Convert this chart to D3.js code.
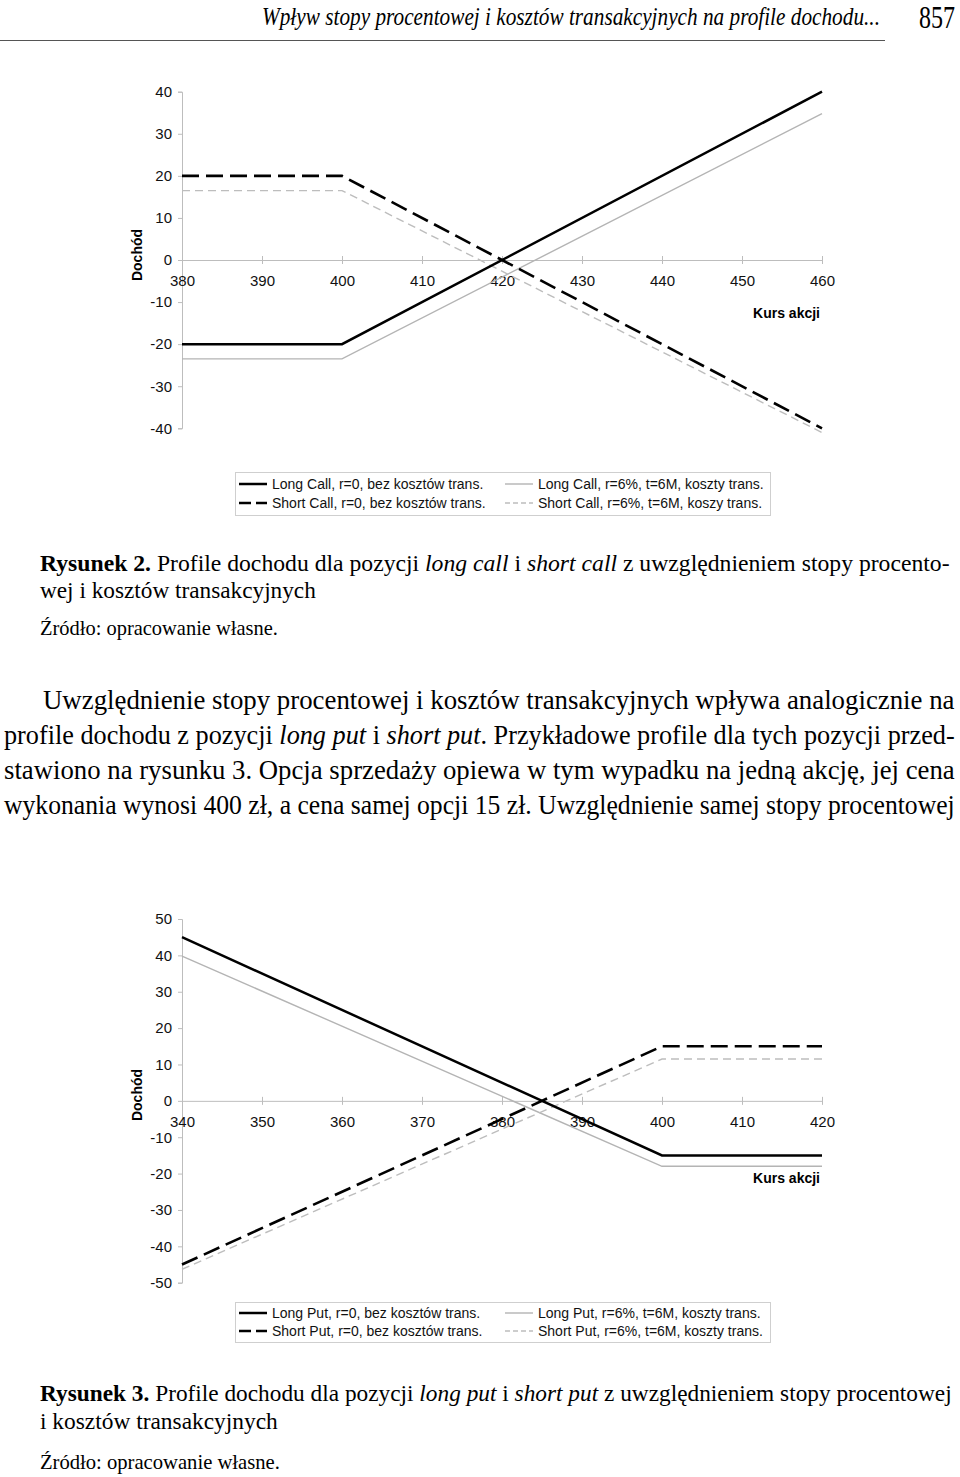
<!DOCTYPE html>
<html><head><meta charset="utf-8">
<script src="https://cdn.jsdelivr.net/npm/d3@7"></script>
<style>
body{margin:0;background:#fff;}
svg{display:block;}
</style>
</head><body>
<svg id="page" width="960" height="1477"></svg>
<script>
// ---------- DATA ----------
const callX = [380, 400, 460];
const longCall0 = [-20, -20, 40];
const shortCall0 = [20, 20, -40];
const longCall6 = [-23.5, -23.5, 34.8];
const shortCall6 = [16.5, 16.5, -41];
const callXTicks = [380, 390, 400, 410, 420, 430, 440, 450, 460];
const callYTicks = [-40, -30, -20, -10, 0, 10, 20, 30, 40];
const callLegend = ["Long Call, r=0, bez kosztów trans.", "Short Call, r=0, bez kosztów trans.",
                    "Long Call, r=6%, t=6M, koszty trans.", "Short Call, r=6%, t=6M, koszy trans."];

const putX = [340, 400, 420];
const longPut0 = [45, -15, -15];
const shortPut0 = [-45, 15, 15];
const longPut6 = [39.8, -18, -18];
const shortPut6 = [-46.3, 11.5, 11.5];
const putXTicks = [340, 350, 360, 370, 380, 390, 400, 410, 420];
const putYTicks = [-50, -40, -30, -20, -10, 0, 10, 20, 30, 40, 50];
const putLegend = ["Long Put, r=0, bez kosztów trans.", "Short Put, r=0, bez kosztów trans.",
                   "Long Put, r=6%, t=6M, koszty trans.", "Short Put, r=6%, t=6M, koszty trans."];

const yTitle = "Dochód";
const xTitle = "Kurs akcji";

// ---------- STYLES ----------
const styles = [
  {stroke:"#000", width:2.5, dash:null},          // long r=0
  {stroke:"#000", width:2.6, dash:"17,7"},        // short r=0
  {stroke:"#b4b4b4", width:1.4, dash:null},       // long r=6%
  {stroke:"#bdbdbd", width:1.4, dash:"8,5"}       // short r=6%
];

const svg = d3.select("#page");
const AX = "#bdbdbd";
const FONT = "Arial, 'Liberation Sans', sans-serif";
const fmt = d => String(d);

function drawChart(cfg){
  const x = d3.scaleLinear().domain(cfg.xDomain).range([182, 822]);
  const y = d3.scaleLinear().domain(cfg.yDomain).range(cfg.yRange);
  const g = svg.append("g");

  // y axis
  const ya = g.append("g").attr("transform","translate(182,0)")
    .call(d3.axisLeft(y).tickValues(cfg.yTicks).tickFormat(fmt).tickSize(4).tickPadding(6));
  ya.select(".domain").attr("stroke",AX);
  ya.selectAll(".tick line").attr("stroke",AX);
  ya.selectAll(".tick text").attr("font-family",FONT).attr("font-size",15).attr("fill","#111");

  // x axis at y = 0
  const xa = g.append("g").attr("transform",`translate(0,${y(0)})`)
    .call(d3.axisBottom(x).tickValues(cfg.xTicks).tickFormat(fmt).tickSize(4).tickSizeOuter(0));
  xa.select(".domain").attr("stroke",AX);
  xa.selectAll(".tick line").attr("stroke",AX).attr("y1",-4).attr("y2",4);
  xa.selectAll(".tick text").attr("font-family",FONT).attr("font-size",15).attr("fill","#111")
    .attr("y",26).attr("dy",0);

  // titles
  g.append("text").attr("transform",`translate(142,${cfg.yTitleY}) rotate(-90)`)
    .attr("text-anchor","middle").attr("font-family",FONT).attr("font-weight","bold")
    .attr("font-size",14).text(yTitle);
  g.append("text").attr("x",820).attr("y",cfg.xTitleY).attr("text-anchor","end")
    .attr("font-family",FONT).attr("font-weight","bold").attr("font-size",14).text(xTitle);

  // lines (gray first, black on top)
  const line = d3.line().x(d=>x(d[0])).y(d=>y(d[1]));
  [2,3,0,1].forEach(i=>{
    const pts = cfg.xs.map((v,k)=>[v, cfg.series[i][k]]);
    g.append("path").attr("d",line(pts)).attr("fill","none")
      .attr("stroke",styles[i].stroke).attr("stroke-width",styles[i].width)
      .attr("stroke-dasharray",styles[i].dash);
  });

  // legend
  const L = cfg.legend;
  g.append("rect").attr("x",235.5).attr("y",L.top+0.5).attr("width",535).attr("height",L.h)
    .attr("fill","none").attr("stroke","#cfcfcf");
  const cols = [{s:239,e:267,t:272},{s:505,e:533,t:538}];
  cfg.labels.forEach((lab,i)=>{
    const c = cols[Math.floor(i/2)], ry = L.rows[i%2];
    g.append("line").attr("x1",c.s).attr("x2",c.e).attr("y1",ry).attr("y2",ry)
      .attr("stroke",styles[i].stroke).attr("stroke-width",i<2?2.5:1.4)
      .attr("stroke-dasharray", i===1 ? "12,5,7,0" : (i===3 ? "5,3" : null));
    g.append("text").attr("x",c.t).attr("y",ry).attr("dy","0.35em")
      .attr("font-family",FONT).attr("font-size",14).attr("fill","#111").text(lab);
  });
}

drawChart({xDomain:[380,460], yDomain:[-40,40], yRange:[428.3,91.7], xTicks:callXTicks, yTicks:callYTicks,
  xs:callX, series:[longCall0, shortCall0, longCall6, shortCall6], labels:callLegend,
  yTitleY:255, xTitleY:318, legend:{top:472, h:43, rows:[484,503]}});

drawChart({xDomain:[340,420], yDomain:[-50,50], yRange:[1282.7,919], xTicks:putXTicks, yTicks:putYTicks,
  xs:putX, series:[longPut0, shortPut0, longPut6, shortPut6], labels:putLegend,
  yTitleY:1095, xTitleY:1183, legend:{top:1302, h:40, rows:[1313,1331]}});

// ---------- PAGE TEXT ----------
const SERIF = "'Liberation Serif','Times New Roman',Times,serif";
function fitLine(x, y, size, width, parts){
  const t = svg.append("text").attr("x",0).attr("y",0).attr("font-family",SERIF).attr("font-size",size).attr("fill","#000");
  parts.forEach(p=>{
    const ts = t.append("tspan").text(p.t);
    if (p.i) ts.attr("font-style","italic");
    if (p.b) ts.attr("font-weight","bold");
  });
  const len = t.node().getComputedTextLength();
  t.attr("transform",`translate(${x},${y}) scale(${width/len},1)`);
  return t;
}

// header
fitLine(262, 25, 26, 618, [{t:"Wpływ stopy procentowej i kosztów transakcyjnych na profile dochodu...", i:true}]);
fitLine(919, 28, 32, 36, [{t:"857"}]);
svg.append("line").attr("x1",0).attr("x2",885).attr("y1",40.5).attr("y2",40.5).attr("stroke","#555").attr("stroke-width",1);

// caption 1
fitLine(40, 571, 24, 910, [{t:"Rysunek 2.", b:true},{t:" Profile dochodu dla pozycji "},{t:"long call",i:true},{t:" i "},{t:"short call",i:true},{t:" z uwzględnieniem stopy procento-"}]);
fitLine(40, 598, 24, 276, [{t:"wej i kosztów transakcyjnych"}]);
fitLine(40, 635, 22, 238, [{t:"Źródło: opracowanie własne."}]);

// paragraph
fitLine(43, 709, 28, 912, [{t:"Uwzględnienie stopy procentowej i kosztów transakcyjnych wpływa analogicznie na"}]);
fitLine(4, 744, 28, 951, [{t:"profile dochodu z pozycji "},{t:"long put",i:true},{t:" i "},{t:"short put",i:true},{t:". Przykładowe profile dla tych pozycji przed-"}]);
fitLine(4, 779, 28, 951, [{t:"stawiono na rysunku 3. Opcja sprzedaży opiewa w tym wypadku na jedną akcję, jej cena"}]);
fitLine(4, 814, 28, 951, [{t:"wykonania wynosi 400 zł, a cena samej opcji 15 zł. Uwzględnienie samej stopy procentowej"}]);

// caption 2
fitLine(40, 1401, 24, 912, [{t:"Rysunek 3.", b:true},{t:" Profile dochodu dla pozycji "},{t:"long put",i:true},{t:" i "},{t:"short put",i:true},{t:" z uwzględnieniem stopy procentowej"}]);
fitLine(40, 1429, 24, 238, [{t:"i kosztów transakcyjnych"}]);
fitLine(40, 1469, 22, 240, [{t:"Źródło: opracowanie własne."}]);
</script>
</body></html>
